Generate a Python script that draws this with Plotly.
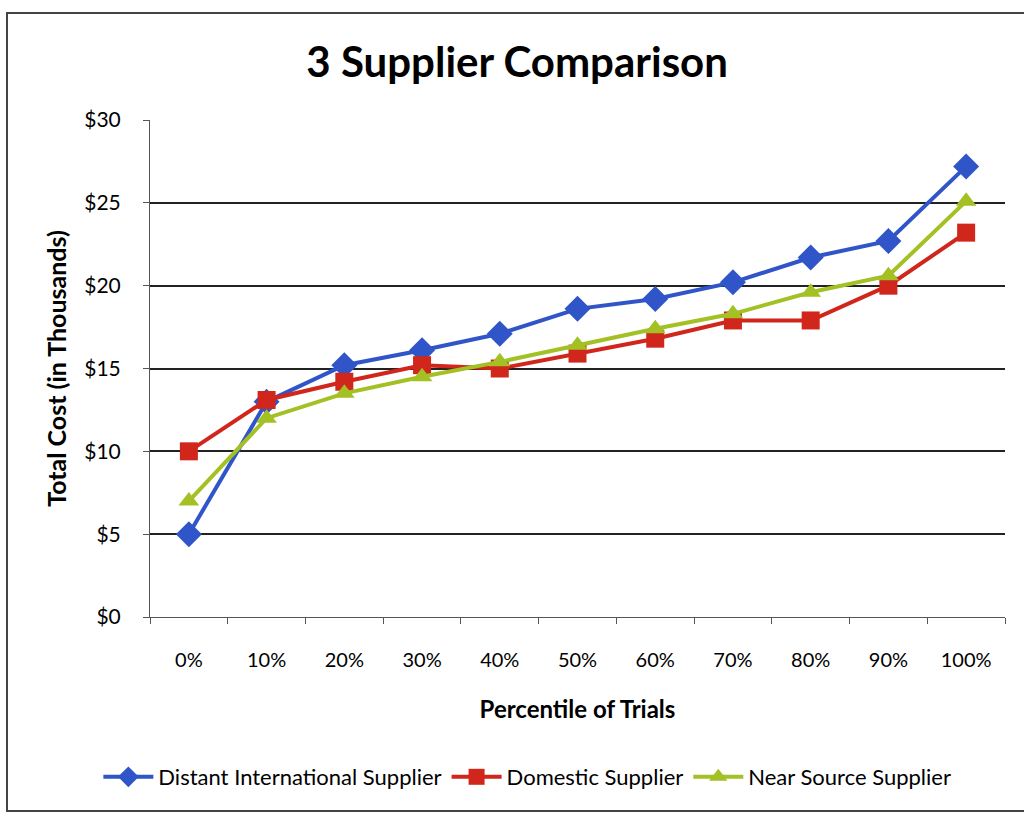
import plotly.graph_objects as go

# Percentile labels on the category axis
percentiles = ["0%", "10%", "20%", "30%", "40%", "50%", "60%", "70%", "80%", "90%", "100%"]

# Total cost per supplier, in thousands of dollars
distant_international = [5.0, 13.0, 15.2, 16.1, 17.1, 18.6, 19.2, 20.2, 21.7, 22.7, 27.2]
domestic = [10.0, 13.1, 14.2, 15.2, 15.0, 15.9, 16.8, 17.9, 17.9, 20.0, 23.2]
near_source = [7.0, 12.0, 13.5, 14.5, 15.4, 16.4, 17.4, 18.3, 19.6, 20.6, 25.1]

y_ticks = [0, 5, 10, 15, 20, 25, 30]
y_tick_labels = ["$0", "$5", "$10", "$15", "$20", "$25", "$30"]

FONT = "Lato"

fig = go.Figure()
series = [
    ("Distant International Supplier", distant_international, "#2f55c9", "diamond", 20),
    ("Domestic Supplier", domestic, "#d0261b", "square", 18),
    ("Near Source Supplier", near_source, "#a3c124", "triangle-up", 18),
]
for name, values, color, symbol, size in series:
    fig.add_trace(go.Scatter(
        x=percentiles, y=values, name=name, mode="lines+markers",
        line=dict(color=color, width=4),
        marker=dict(symbol=symbol, size=size, color=color, line=dict(width=0)),
    ))

fig.update_layout(
    width=1024, height=814,
    margin=dict(l=150, r=19, t=120, b=197, autoexpand=False),
    paper_bgcolor="white", plot_bgcolor="white",
    font=dict(family=FONT, color="black"),
    title=dict(text="<b>3 Supplier Comparison</b>", x=0.505, xanchor="center",
               y=1 - 62 / 814, yanchor="middle", font=dict(size=42, family=FONT)),
    showlegend=True,
    legend=dict(orientation="h", xref="container", yref="container",
                x=0.515, xanchor="center", y=1 - 777 / 814, yanchor="middle",
                font=dict(size=22, family=FONT), itemwidth=50, traceorder="normal",
                tracegroupgap=0),
    xaxis=dict(
        type="category", range=[-0.5, 10.5], tickson="boundaries", automargin=False,
        ticks="outside", ticklen=6, tickcolor="#555", showline=True, linecolor="#555",
        linewidth=1, showgrid=False, tickfont=dict(size=20), ticklabelstandoff=25,
        title=dict(text="<b>Percentile of Trials</b>", font=dict(size=24), standoff=31),
    ),
    yaxis=dict(
        range=[0, 30], tickvals=y_ticks, ticktext=y_tick_labels, automargin=False,
        ticks="outside", ticklen=6, tickcolor="#555", showline=True, linecolor="#555",
        linewidth=1, showgrid=True, gridcolor="#222", gridwidth=1.5,
        tickfont=dict(size=21), zeroline=False, ticklabelstandoff=18,
        title=dict(text="<b>Total Cost (in Thousands)</b>", font=dict(size=25), standoff=10),
    ),
    shapes=[
        dict(type="rect", xref="paper", yref="paper",
             x0=-143 / 855, x1=1.05, y0=-194 / 497, y1=1 + 107 / 497,
             line=dict(color="#444", width=2)),
    ],
)

fig.write_html("out.html")
